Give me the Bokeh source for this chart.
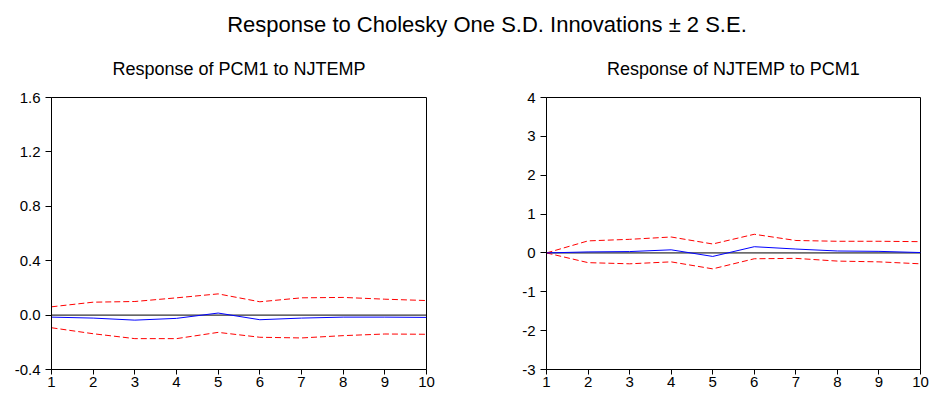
from bokeh.plotting import figure
from bokeh.layouts import column, row
from bokeh.models import Div, Span, FixedTicker, Range1d
from bokeh.embed import file_html
from bokeh.resources import INLINE

periods = [1, 2, 3, 4, 5, 6, 7, 8, 9, 10]

pcm_resp = [-0.015, -0.022, -0.037, -0.024, 0.015, -0.034, -0.022, -0.015, -0.015, -0.017]
pcm_upper = [0.061, 0.095, 0.100, 0.127, 0.156, 0.098, 0.127, 0.130, 0.117, 0.107]
pcm_lower = [-0.093, -0.137, -0.173, -0.173, -0.127, -0.163, -0.168, -0.151, -0.139, -0.141]

nj_resp = [0.0, 0.026, 0.035, 0.08, -0.09, 0.16, 0.10, 0.05, 0.04, 0.01]
nj_upper = [0.0, 0.31, 0.35, 0.41, 0.23, 0.48, 0.32, 0.30, 0.30, 0.29]
nj_lower = [0.0, -0.25, -0.28, -0.23, -0.41, -0.15, -0.14, -0.21, -0.23, -0.28]

left_ticks = [-0.4, 0.0, 0.4, 0.8, 1.2, 1.6]
left_labels = ["-0.4", "0.0", "0.4", "0.8", "1.2", "1.6"]
right_ticks = [-3, -2, -1, 0, 1, 2, 3, 4]
right_labels = ["-3", "-2", "-1", "0", "1", "2", "3", "4"]

main_title = "Response to Cholesky One S.D. Innovations \u00b1 2 S.E."
left_title = "Response of PCM1 to NJTEMP"
right_title = "Response of NJTEMP to PCM1"

FONT = "Liberation Sans"


def make_panel(title, resp, upper, lower, yticks, ylabels, ymin, ymax,
               width, height, bl, br, bt, bb):
    p = figure(width=width, height=height, output_backend="svg",
               toolbar_location=None, title=title,
               x_range=Range1d(1, 10), y_range=Range1d(ymin, ymax),
               min_border_left=bl, min_border_right=br,
               min_border_top=bt, min_border_bottom=bb)
    p.title.text_font = FONT
    p.title.text_font_size = "18px"
    p.title.text_font_style = "normal"
    p.title.align = "center"
    p.title.text_color = "black"
    p.title.standoff = 37
    p.outline_line_color = "black"
    p.outline_line_width = 1
    p.outline_line_alpha = 1
    p.xgrid.visible = False
    p.ygrid.visible = False
    p.background_fill_color = "white"
    p.border_fill_color = "white"

    zero = Span(location=0, dimension="width", line_color="black",
                line_width=1, level="underlay")
    p.add_layout(zero)

    p.line(periods, upper, line_color="#FF0000", line_width=1, line_dash="6 3")
    p.line(periods, lower, line_color="#FF0000", line_width=1, line_dash="6 3")
    p.line(periods, resp, line_color="#0000FF", line_width=1)

    p.xaxis.ticker = FixedTicker(ticks=periods)
    p.yaxis.ticker = FixedTicker(ticks=yticks)
    p.yaxis.major_label_overrides = {t: l for t, l in zip(yticks, ylabels)}
    for ax in (p.xaxis[0], p.yaxis[0]):
        ax.axis_line_color = "black"
        ax.major_tick_line_color = "black"
        ax.major_tick_in = 0
        ax.minor_tick_line_color = None
        ax.major_label_text_font = FONT
        ax.major_label_text_color = "black"
    p.yaxis.major_tick_out = 6
    p.yaxis.major_label_standoff = 5
    p.yaxis.major_label_text_font_size = "15px"
    p.xaxis.major_tick_out = 5
    p.xaxis.major_label_standoff = 2
    p.xaxis.major_label_text_font_size = "15px"
    p.xaxis.major_label_text_line_height = 1.0
    return p


p1 = make_panel(left_title, pcm_resp, pcm_upper, pcm_lower,
                left_ticks, left_labels, -0.4, 1.6,
                width=470, height=356, bl=51, br=44, bt=58, bb=23)
p2 = make_panel(right_title, nj_resp, nj_upper, nj_lower,
                right_ticks, right_labels, -3, 4,
                width=460, height=356, bl=76, br=10, bt=57, bb=25)

header = Div(text=main_title, width=930, height=38, margin=(0, 0, 0, 0),
             styles={"font-family": FONT, "font-size": "22px",
                     "text-align": "center", "color": "black",
                     "padding-top": "9px", "padding-left": "44px",
                     "box-sizing": "border-box", "width": "930px"})

layout = column(header, row(p1, p2, spacing=0), spacing=0)

open("out.html", "w").write(file_html(layout, INLINE))
